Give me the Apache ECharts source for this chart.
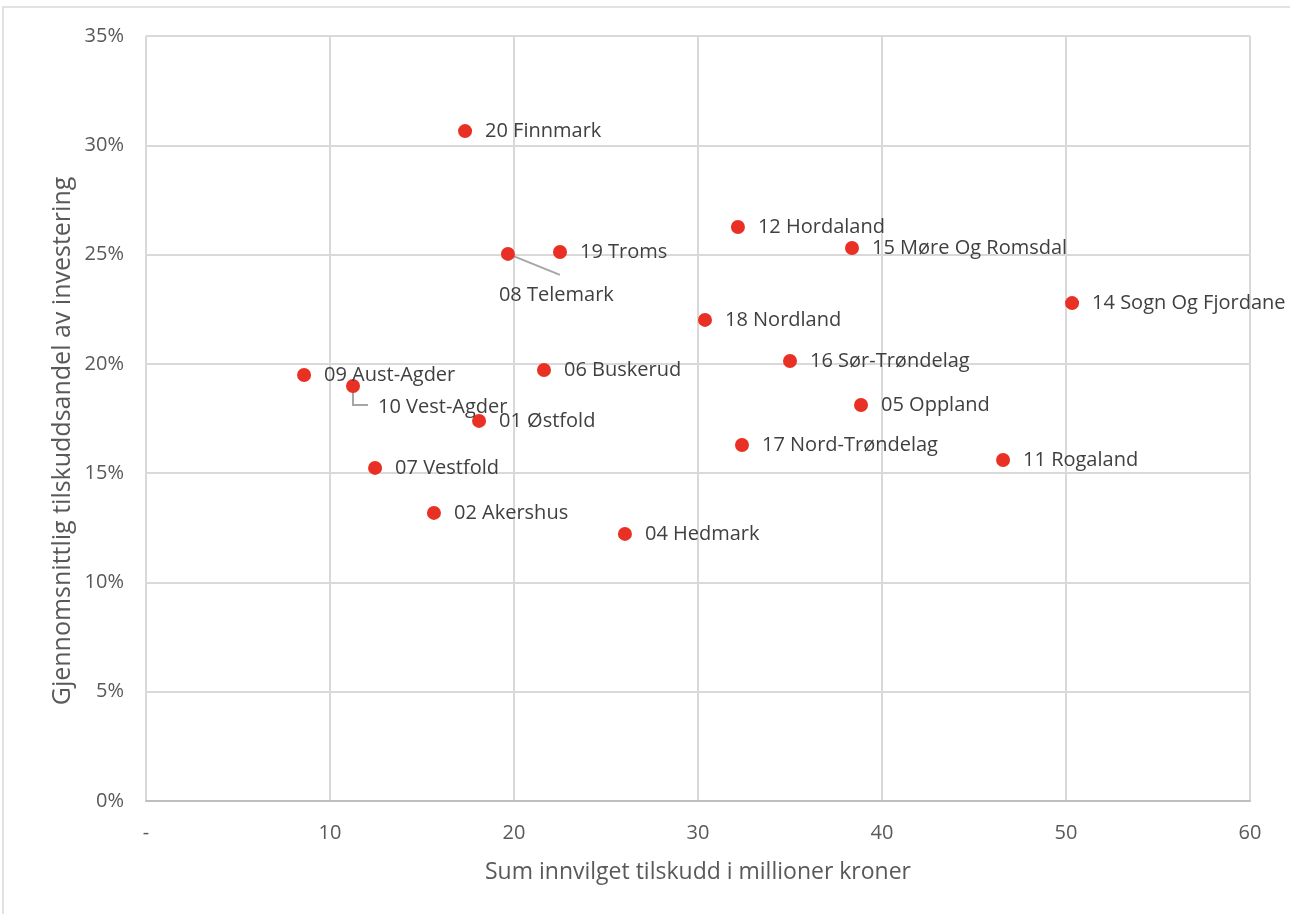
<!DOCTYPE html>
<html><head><meta charset="utf-8">
<script src="https://cdn.jsdelivr.net/npm/echarts@6/dist/echarts.min.js"></script>
<style>html,body{margin:0;padding:0;background:#fff}#c{width:1290px;height:914px}</style>
</head><body><div id="c"></div>
<script>
const names = ["20 Finnmark","12 Hordaland","15 Møre Og Romsdal","14 Sogn Og Fjordane","19 Troms","08 Telemark","18 Nordland","16 Sør-Trøndelag","06 Buskerud","09 Aust-Agder","10 Vest-Agder","05 Oppland","01 Østfold","17 Nord-Trøndelag","11 Rogaland","07 Vestfold","02 Akershus","04 Hedmark"];
const sumTilskudd = [17.34,32.17,38.37,50.33,22.5,19.67,30.38,35.0,21.63,8.59,11.25,38.86,18.10,32.39,46.58,12.45,15.65,26.03];
const andel = [0.3065,0.2626,0.2530,0.2278,0.2512,0.2503,0.2201,0.2013,0.1972,0.1949,0.1899,0.1812,0.1739,0.1629,0.1560,0.1524,0.1318,0.1222];
const xTicks = ["-","10","20","30","40","50","60"];
const xTitle = "Sum innvilget tilskudd i millioner kroner";
const yTitle = "Gjennomsnittlig tilskuddsandel av investering";
// label offsets (px) and leader-line paths (px, relative to the point) for moved labels
const movedLabels = {"08 Telemark":[-29,41],"10 Vest-Agder":[5,21]};
const leaderPaths = {"08 Telemark":[[0,0],[52,21]],"10 Vest-Agder":[[0,5],[0,19],[15,19]]};

const font = '"Open Sans", "Liberation Sans", sans-serif';
const chart = echarts.init(document.getElementById('c'));
const leaderData = names.map((n,i)=>leaderPaths[n]?[sumTilskudd[i],andel[i],n]:null).filter(d=>d);
chart.setOption({
  animation:false,
  graphic:[
    {type:'rect',shape:{x:3,y:7,width:1400,height:1000},style:{fill:'none',stroke:'#d9d9d9',lineWidth:1.5},silent:true},
    {type:'text',x:63,y:441,rotation:Math.PI/2,silent:true,
      style:{text:yTitle,font:'25px '+font,fill:'#595959',align:'center',verticalAlign:'middle'}}
  ],
  grid:{left:146,right:40,top:36,bottom:113},
  xAxis:{type:'value',min:0,max:60,interval:10,
    name:xTitle,nameLocation:'middle',nameGap:60,
    nameTextStyle:{fontFamily:font,fontSize:23,color:'#595959'},
    axisLine:{show:true,lineStyle:{color:'#bfbfbf',width:2}},axisTick:{show:false},
    axisLabel:{margin:22,fontFamily:font,fontSize:20,color:'#595959',formatter:v=>xTicks[Math.round(v/10)]},
    splitLine:{show:true,lineStyle:{color:'#d9d9d9',width:2}}},
  yAxis:{type:'value',min:0,max:0.35,interval:0.05,
    axisLine:{show:false},axisTick:{show:false},
    axisLabel:{margin:22,fontFamily:font,fontSize:20,color:'#595959',formatter:v=>Math.round(v*100)+'%'},
    splitLine:{show:true,lineStyle:{color:'#d9d9d9',width:2}}},
  series:[
  {type:'custom',silent:true,z:1,data:leaderData,
    renderItem:(params,api)=>{
      const c=api.coord([api.value(0),api.value(1)]);
      const path=leaderPaths[leaderData[params.dataIndex][2]];
      return {type:'polyline',shape:{points:path.map(p=>[c[0]+p[0],c[1]+p[1]])},
        style:{stroke:'#a6a6a6',lineWidth:2,fill:null}};
    }},
  {type:'scatter',symbolSize:14,z:2,itemStyle:{color:'#e93025',opacity:1},
    data:names.map((n,i)=>({name:n,value:[sumTilskudd[i],andel[i]]})),
    label:{show:true,position:'right',distance:13,formatter:p=>p.name,fontFamily:font,fontSize:20,color:'#404040'},
    labelLayout:p=>{const o=movedLabels[names[p.dataIndex]];return o?{dx:o[0],dy:o[1]}:{};}
  }]
});
</script></body></html>
